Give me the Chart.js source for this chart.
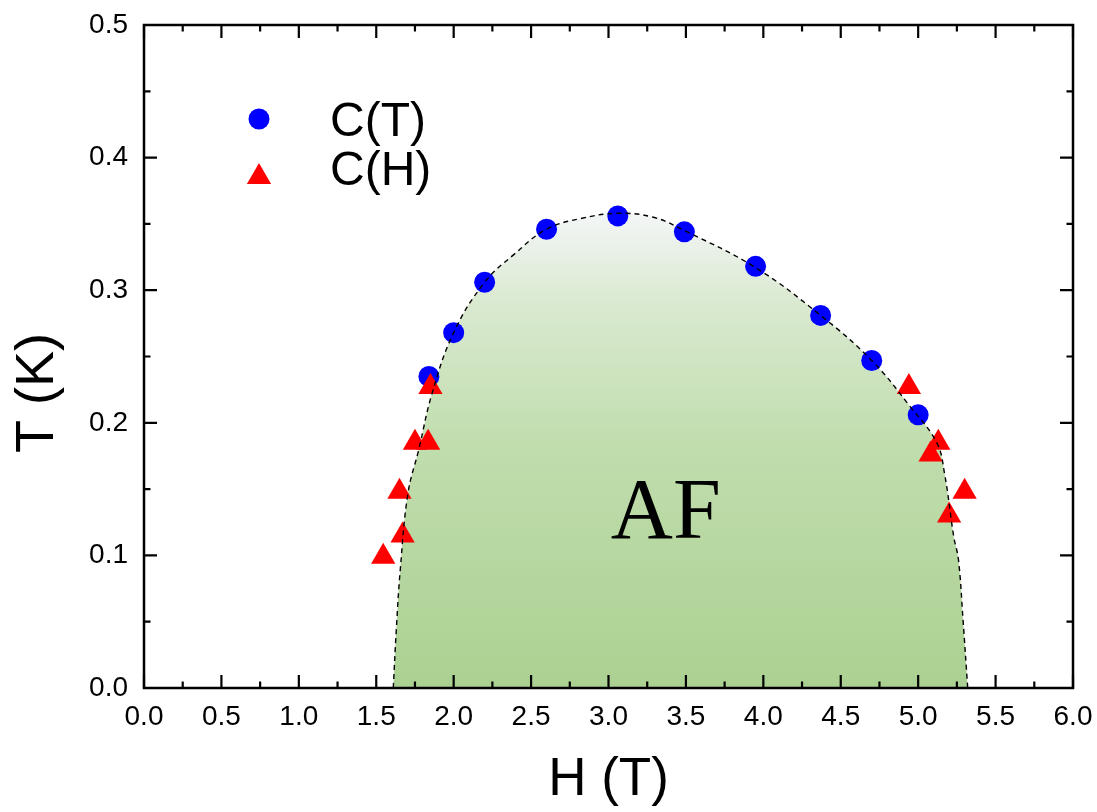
<!DOCTYPE html>
<html><head><meta charset="utf-8">
<script src="https://cdn.jsdelivr.net/npm/chart.js@4/dist/chart.umd.min.js"></script>
<style>html,body{margin:0;padding:0;background:#fff}#wrap{width:1097px;height:812px}</style>
</head><body><div id="wrap"><canvas id="c" width="1097" height="812"></canvas></div>
<script>
// ---- data ----
const xTitle = 'H (T)';
const yTitle = 'T (K)';
const regionLabel = 'AF';
const seriesNames = ['C(T)', 'C(H)'];
const xTicks = [0.0,0.5,1.0,1.5,2.0,2.5,3.0,3.5,4.0,4.5,5.0,5.5,6.0];
const yTicks = [0.0,0.1,0.2,0.3,0.4,0.5];
// C(T) points (blue circles)
const ctH = [1.84,2.00,2.20,2.60,3.06,3.49,3.95,4.37,4.70,5.00];
const ctT = [0.235,0.268,0.306,0.346,0.356,0.344,0.318,0.281,0.247,0.206];
// C(H) points (red triangles)
const chH = [1.85,1.75,1.835,1.65,1.67,1.545,4.94,5.13,5.08,5.30,5.20];
const chT = [0.227,0.185,0.185,0.148,0.115,0.099,0.227,0.185,0.176,0.148,0.130];
// phase boundary (dashed guide line)
const bH = [1.61,1.63,1.655,1.705,1.775,1.86,2.00,2.20,2.39,2.60,2.82,3.06,3.29,3.49,3.95,4.37,4.70,4.95,5.12,5.17,5.23,5.26,5.29,5.32];
const bT = [0.0,0.045,0.089,0.147,0.18,0.222,0.268,0.306,0.327,0.346,0.354,0.358,0.355,0.345,0.317,0.281,0.247,0.212,0.185,0.162,0.114,0.097,0.051,0.0];
const regionPos = [3.37, 0.113];

const pts = (xs, ys) => xs.map((x,i)=>({x:x, y:ys[i]}));
const SANS = '"Liberation Sans", Arial, sans-serif';

const decor = {
  id: 'decor',
  afterDatasetsDraw(chart) {
    const ctx = chart.ctx, a = chart.chartArea, xs = chart.scales.x, ys = chart.scales.y;
    ctx.save();
    // region label
    ctx.fillStyle = '#000';
    ctx.font = '86px "Liberation Serif", "Times New Roman", serif';
    ctx.textAlign = 'center';
    ctx.textBaseline = 'alphabetic';
    ctx.fillText(regionLabel, xs.getPixelForValue(regionPos[0]), ys.getPixelForValue(regionPos[1]));
    // frame
    ctx.strokeStyle = '#000';
    ctx.lineWidth = 2.5;
    ctx.strokeRect(a.left, a.top, a.right - a.left, a.bottom - a.top);
    // ticks (inward on all sides)
    ctx.lineWidth = 2.2;
    const major = 13, minor = 6.5;
    ctx.beginPath();
    for (let i = 0; i <= 24; i++) {
      const v = i * 0.25, px = xs.getPixelForValue(v), L = (i % 2 === 0) ? major : minor;
      ctx.moveTo(px, a.bottom); ctx.lineTo(px, a.bottom - L);
      ctx.moveTo(px, a.top); ctx.lineTo(px, a.top + L);
    }
    for (let i = 0; i <= 10; i++) {
      const v = i * 0.05, py = ys.getPixelForValue(v), L = (i % 2 === 0) ? major : minor;
      ctx.moveTo(a.left, py); ctx.lineTo(a.left + L, py);
      ctx.moveTo(a.right, py); ctx.lineTo(a.right - L, py);
    }
    ctx.stroke();
    // axis titles
    ctx.fillStyle = '#000';
    ctx.font = '53px ' + SANS;
    ctx.textAlign = 'center';
    ctx.textBaseline = 'alphabetic';
    ctx.fillText(xTitle, (a.left + a.right) / 2, 795);
    ctx.save();
    ctx.translate(53, 393);
    ctx.rotate(-Math.PI / 2);
    ctx.font = '54px ' + SANS;
    ctx.fillText(yTitle, 0, 0);
    ctx.restore();
    // legend
    const W = a.right - a.left, H = a.bottom - a.top;
    const mx = a.left + 0.1238 * W;
    const y1 = a.top + 0.1418 * H, y2 = a.top + 0.2293 * H;
    ctx.fillStyle = '#0000ff';
    ctx.beginPath(); ctx.arc(mx, y1, 10.5, 0, Math.PI * 2); ctx.fill();
    ctx.fillStyle = '#ff0000';
    const r = 14;
    ctx.beginPath();
    ctx.moveTo(mx, y2 - r);
    ctx.lineTo(mx + r * Math.sin(2*Math.PI/3), y2 - r * Math.cos(2*Math.PI/3));
    ctx.lineTo(mx + r * Math.sin(4*Math.PI/3), y2 - r * Math.cos(4*Math.PI/3));
    ctx.closePath(); ctx.fill();
    ctx.fillStyle = '#000';
    ctx.font = '48px ' + SANS;
    ctx.textAlign = 'left';
    const tx = a.left + 0.2002 * W;
    ctx.fillText(seriesNames[0], tx, y1 + 16.5);
    ctx.fillText(seriesNames[1], tx, a.top + 0.2413 * H);
    ctx.restore();
  }
};

function greenFill(context) {
  const chart = context.chart, a = chart.chartArea;
  if (!a) return 'rgba(174,210,149,1)';
  const ys = chart.scales.y;
  const g = chart.ctx.createLinearGradient(0, ys.getPixelForValue(0.36), 0, ys.getPixelForValue(0));
  g.addColorStop(0, '#f4f6f8');
  g.addColorStop(0.2, '#d9e9cf');
  g.addColorStop(0.5, '#c0ddad');
  g.addColorStop(1, '#abd192');
  return g;
}

function fixX(s) { s.height = 124; s.paddingLeft = 0; s.paddingRight = 0; }
function fixY(s) { s.width = 144; s.paddingTop = 0; s.paddingBottom = 0; }

new Chart(document.getElementById('c'), {
  type: 'scatter',
  data: {
    datasets: [
      { label: 'fill', data: pts(bH, bT), showLine: true, fill: 'origin', backgroundColor: greenFill,
        borderWidth: 0, borderColor: 'rgba(0,0,0,0)', pointRadius: 0, tension: 0.4, order: 5 },
      { label: seriesNames[0], data: pts(ctH, ctT), pointStyle: 'circle', pointRadius: 10.5,
        backgroundColor: '#0000ff', borderColor: '#0000ff', borderWidth: 0, order: 4 },
      { label: seriesNames[1], data: pts(chH, chT), pointStyle: 'triangle', pointRadius: 14,
        backgroundColor: '#ff0000', borderColor: '#ff0000', borderWidth: 0, order: 3 },
      { label: 'boundary', data: pts(bH, bT), showLine: true, fill: false, borderColor: '#000',
        borderWidth: 1.4, borderDash: [5, 4], pointRadius: 0, tension: 0.4, order: 1 }
    ]
  },
  options: {
    responsive: false,
    animation: false,
    events: [],
    layout: { padding: { top: 25, right: 24, left: 0, bottom: 0 } },
    plugins: { legend: { display: false }, tooltip: { enabled: false } },
    scales: {
      x: {
        type: 'linear', min: 0, max: 6,
        afterFit: fixX,
        afterBuildTicks: s => { s.ticks = xTicks.map(v => ({ value: v })); },
        grid: { display: false, drawTicks: false }, border: { display: false },
        ticks: { padding: 12, color: '#000', font: { family: SANS, size: 28 }, maxRotation: 0,
          autoSkip: false, callback: v => Number(v).toFixed(1) }
      },
      y: {
        type: 'linear', min: 0, max: 0.5,
        afterFit: fixY,
        afterBuildTicks: s => { s.ticks = yTicks.map(v => ({ value: v })); },
        grid: { display: false, drawTicks: false }, border: { display: false },
        ticks: { padding: 16, color: '#000', font: { family: SANS, size: 28 },
          autoSkip: false, callback: v => Number(v).toFixed(1) }
      }
    }
  },
  plugins: [decor]
});
</script></body></html>
